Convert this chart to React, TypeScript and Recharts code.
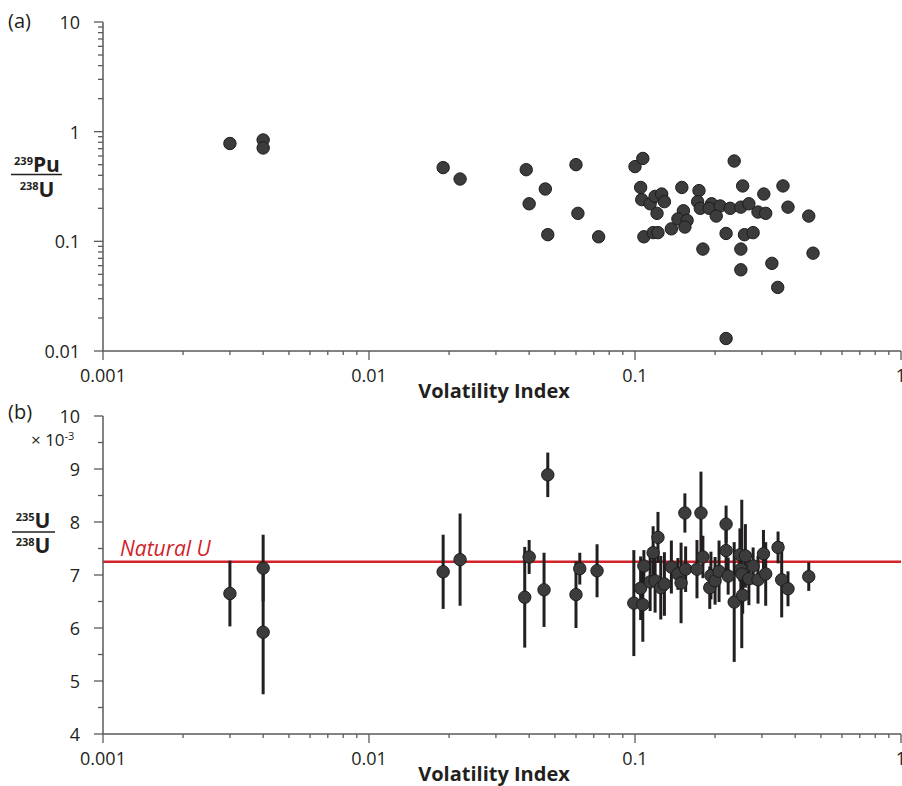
import { ScatterChart, Scatter, XAxis, YAxis, ErrorBar, ReferenceLine } from 'recharts';

// panel (a): 239Pu/238U vs volatility index
const puVolatility = [
  0.003, 0.004, 0.004, 0.019, 0.022, 0.039, 0.04, 0.046, 0.047, 0.06, 0.061, 0.073,
  0.1, 0.107, 0.105, 0.106, 0.114, 0.119, 0.126, 0.129, 0.121, 0.108, 0.117, 0.122,
  0.137, 0.15, 0.152, 0.145, 0.157, 0.154, 0.174, 0.172, 0.176, 0.18, 0.194, 0.19,
  0.209, 0.202, 0.22, 0.22, 0.228, 0.236, 0.25, 0.254, 0.268, 0.25, 0.25, 0.258,
  0.278, 0.29, 0.31, 0.305, 0.36, 0.327, 0.344, 0.376, 0.45, 0.467,
];
const puRatio = [
  0.78, 0.84, 0.71, 0.47, 0.37, 0.45, 0.22, 0.3, 0.115, 0.5, 0.18, 0.11,
  0.48, 0.57, 0.31, 0.24, 0.22, 0.257, 0.27, 0.23, 0.18, 0.11, 0.12, 0.12,
  0.13, 0.31, 0.19, 0.16, 0.155, 0.135, 0.29, 0.23, 0.2, 0.085, 0.22, 0.2,
  0.21, 0.17, 0.118, 0.013, 0.2, 0.54, 0.205, 0.32, 0.22, 0.085, 0.055, 0.115,
  0.12, 0.185, 0.18, 0.27, 0.32, 0.063, 0.038, 0.205, 0.17, 0.078,
];

// panel (b): 235U/238U (x 10^-3) with error bars
const uVolatility = [
  0.003, 0.004, 0.004, 0.019, 0.022, 0.04, 0.0385, 0.047, 0.0455, 0.06, 0.062, 0.072,
  0.099, 0.107, 0.108, 0.105, 0.117, 0.122, 0.114, 0.119, 0.125, 0.129, 0.137, 0.145,
  0.149, 0.155, 0.154, 0.177, 0.171, 0.18, 0.191, 0.193, 0.2, 0.207, 0.22, 0.22,
  0.224, 0.236, 0.248, 0.25, 0.252, 0.254, 0.26, 0.268, 0.278, 0.29, 0.304, 0.31,
  0.345, 0.356, 0.376, 0.45,
];
const uRatio = [
  6.65, 7.13, 5.92, 7.06, 7.29, 7.34, 6.58, 8.89, 6.72, 6.63, 7.12, 7.08,
  6.47, 6.44, 7.17, 6.75, 7.42, 7.71, 6.87, 6.89, 6.76, 6.83, 7.15, 7.02,
  6.85, 7.11, 8.17, 8.17, 7.11, 7.34, 6.76, 6.99, 6.89, 7.07, 7.96, 7.46,
  6.98, 6.49, 7.38, 7.11, 7.02, 6.62, 7.36, 6.93, 7.17, 6.91, 7.4, 7.02,
  7.52, 6.91, 6.74, 6.97,
];
const uError = [
  0.62, 0.63, 1.17, 0.7, 0.87, 0.32, 0.95, 0.42, 0.7, 0.63, 0.3, 0.5,
  1.0, 0.7, 0.3, 0.6, 0.5, 0.48, 0.55, 0.6, 0.6, 0.6, 0.5, 0.3,
  0.76, 0.43, 0.37, 0.78, 0.55, 0.4, 0.4, 0.45, 0.45, 0.58, 0.35, 0.4,
  0.35, 1.13, 0.5, 0.5, 1.4, 0.35, 0.6, 0.5, 0.35, 0.45, 0.45, 0.6,
  0.3, 0.71, 0.33, 0.27,
];
const naturalU = 7.25;

const xDecades = [0.001, 0.01, 0.1, 1];
const puDecades = [0.01, 0.1, 1, 10];
const uMajor = [4, 5, 6, 7, 8, 9, 10];
const uMinor = [4.5, 5.5, 6.5, 7.5, 8.5, 9.5];

const INK = '#231f20';
const AXIS = '#5a5a5a';
const RED = '#d2232a';
const FONT = '"Open Sans", sans-serif';

const withMinors = (decades: number[]) =>
  decades.flatMap((d, i) =>
    i === decades.length - 1 ? [d] : [1, 2, 3, 4, 5, 6, 7, 8, 9].map((m) => +(d * m).toPrecision(6))
  );

const xTicks = withMinors(xDecades);
const puTicks = withMinors(puDecades);
const uTicks = [...uMajor, ...uMinor].sort((a, b) => a - b);

const puData = puVolatility.map((x, i) => ({ x, y: puRatio[i] }));
const uData = uVolatility.map((x, i) => ({ x, y: uRatio[i], err: uError[i] }));

function XTick({ x, y, payload, majors }: any) {
  const major = majors.includes(payload.value);
  return (
    <g>
      <line x1={x} x2={x} y1={y} y2={y + (major ? 9 : 4)} stroke={AXIS} strokeWidth={1.3} />
      {major && (
        <text x={x} y={y + 31} textAnchor="middle" fontSize={18} fontFamily={FONT} fill={INK}>
          {String(payload.value)}
        </text>
      )}
    </g>
  );
}

function YTick({ x, y, payload, majors }: any) {
  const major = majors.includes(payload.value);
  return (
    <g>
      <line x1={x - (major ? 9 : 5)} x2={x} y1={y} y2={y} stroke={AXIS} strokeWidth={1.3} />
      {major && (
        <text x={x - 23} y={y + 7} textAnchor="end" fontSize={18} fontFamily={FONT} fill={INK}>
          {String(payload.value)}
        </text>
      )}
    </g>
  );
}

const renderDot = (p: any) => (
  <circle cx={p.cx} cy={p.cy} r={6.2} fill="#3c3c3c" stroke="#1c1c1c" strokeWidth={1} />
);

const renderNaturalLabel = (props: any) => {
  const vb = props.viewBox;
  return (
    <text x={vb.x + 17} y={vb.y - 6} fontSize={21} fontStyle="italic" fontFamily={FONT} fill={RED}>
      Natural U
    </text>
  );
};

const axisTitle = (offset: number) => ({
  value: 'Volatility Index',
  position: 'insideBottom' as const,
  offset,
  dx: -8,
  fontSize: 20,
  fontWeight: 700,
  fontFamily: FONT,
  fill: INK,
});

export default function App() {
  return (
    <div style={{ position: 'absolute', left: 0, top: 0, width: 902, height: 786, background: '#fff' }}>
      <div style={{ position: 'absolute', left: 0, top: 0 }}>
        <ScatterChart width={902} height={408} margin={{ top: 22, right: 1, bottom: 0, left: 0 }}>
          <XAxis
            type="number"
            dataKey="x"
            scale="log"
            domain={[0.001, 1]}
            allowDataOverflow
            ticks={xTicks}
            interval={0}
            tickSize={0}
            tickMargin={0}
            tickLine={false}
            tick={<XTick majors={xDecades} />}
            axisLine={{ stroke: AXIS, strokeWidth: 1.5 }}
            height={57}
            label={axisTitle(10)}
          />
          <YAxis
            type="number"
            dataKey="y"
            scale="log"
            domain={[0.01, 10]}
            allowDataOverflow
            ticks={puTicks}
            interval={0}
            tickSize={0}
            tickMargin={0}
            tickLine={false}
            tick={<YTick majors={puDecades} />}
            axisLine={{ stroke: AXIS, strokeWidth: 1.5 }}
            width={103}
          />
          <Scatter data={puData} shape={renderDot} isAnimationActive={false} />
        </ScatterChart>
      </div>
      <div style={{ position: 'absolute', left: 0, top: 400 }}>
        <ScatterChart width={902} height={386} margin={{ top: 16, right: 1, bottom: 0, left: 0 }}>
          <XAxis
            type="number"
            dataKey="x"
            scale="log"
            domain={[0.001, 1]}
            allowDataOverflow
            ticks={xTicks}
            interval={0}
            tickSize={0}
            tickMargin={0}
            tickLine={false}
            tick={<XTick majors={xDecades} />}
            axisLine={{ stroke: AXIS, strokeWidth: 1.5 }}
            height={52}
            label={axisTitle(5)}
          />
          <YAxis
            type="number"
            dataKey="y"
            domain={[4, 10]}
            allowDataOverflow
            ticks={uTicks}
            interval={0}
            tickSize={0}
            tickMargin={0}
            tickLine={false}
            tick={<YTick majors={uMajor} />}
            axisLine={{ stroke: AXIS, strokeWidth: 1.5 }}
            width={103}
          />
          <ReferenceLine y={naturalU} stroke={RED} strokeWidth={2.5} label={renderNaturalLabel} />
          <Scatter data={uData} shape={renderDot} isAnimationActive={false}>
            <ErrorBar dataKey="err" direction="y" width={0} stroke={INK} strokeWidth={3} />
          </Scatter>
        </ScatterChart>
      </div>
      <svg
        width={902}
        height={786}
        style={{ position: 'absolute', left: 0, top: 0, pointerEvents: 'none' }}
        fontFamily={FONT}
        fill={INK}
      >
        <text x={8} y={28} fontSize={20}>(a)</text>
        <text x={8} y={419} fontSize={20}>(b)</text>

        <text x={37} y={172} textAnchor="middle" fontSize={21} fontWeight={700}>
          <tspan fontSize={11} dy={-7}>239</tspan>
          <tspan dy={7}>Pu</tspan>
        </text>
        <line x1={11} x2={62} y1={174.5} y2={174.5} stroke={INK} strokeWidth={1.5} />
        <text x={37} y={197} textAnchor="middle" fontSize={21} fontWeight={700}>
          <tspan fontSize={11} dy={-7}>238</tspan>
          <tspan dy={7}>U</tspan>
        </text>

        <text x={33} y={528} textAnchor="middle" fontSize={21} fontWeight={700}>
          <tspan fontSize={11} dy={-7}>235</tspan>
          <tspan dy={7}>U</tspan>
        </text>
        <line x1={12} x2={55} y1={532} y2={532} stroke={INK} strokeWidth={1.5} />
        <text x={33} y={553} textAnchor="middle" fontSize={21} fontWeight={700}>
          <tspan fontSize={11} dy={-7}>238</tspan>
          <tspan dy={7}>U</tspan>
        </text>

        <text x={31} y={446} fontSize={17}>
          × 10
          <tspan fontSize={11} dy={-6}>-3</tspan>
        </text>
      </svg>
    </div>
  );
}
